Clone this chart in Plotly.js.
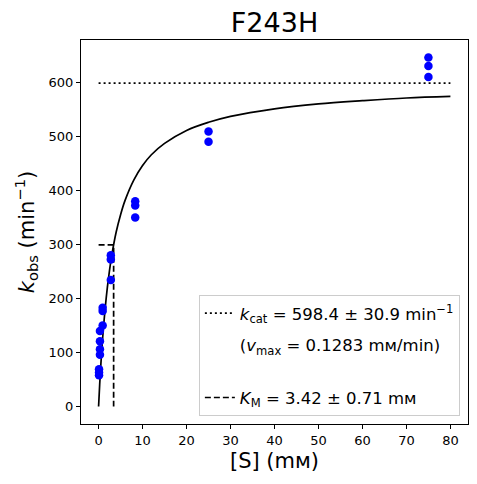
<!DOCTYPE html>
<html>
<head>
<meta charset="utf-8">
<script src="https://cdn.plot.ly/plotly-3.0.1.min.js"></script>
<style>html,body{margin:0;padding:0;background:#fff;}#chart{width:477px;height:484px;}</style>
</head>
<body>
<div id="chart"></div>
<script>
// Measured substrate concentrations (mM) and observed rates (min^-1)
const substrate = [0.103, 0.103, 0.103,
                   0.309, 0.309, 0.309, 0.309,
                   0.926, 0.926, 0.926,
                   2.78, 2.78, 2.78,
                   8.33, 8.33, 8.33,
                   25, 25,
                   75, 75, 75];
const kobs = [58, 63, 69,
              96, 106, 121, 140,
              150, 177, 183,
              234, 272, 280,
              350, 372, 380,
              490, 509,
              610, 630, 646];

// Fitted curve
const fitS = [0, 0.25, 0.5, 0.75, 1, 1.5, 2, 2.5, 3, 4, 5, 6, 8, 10, 12, 15, 20, 25, 30, 40, 50, 60, 70, 80];
const fitK = [0, 41, 76, 108, 135, 182, 221, 253, 280, 323, 355, 381, 419, 446, 466, 487, 511, 526, 537, 551, 560, 566, 571, 574];

// Fit parameters
const kcat = 598.4;
const KM = 3.42;
const kcatLineX = [0, 80];
const kcatLineY = [kcat, kcat];
const kmLineX = [0, KM, KM];
const kmLineY = [kcat / 2, kcat / 2, 0];

const legendTexts = [
  "<i>k</i><sub>cat</sub> = 598.4 ± 30.9 min<sup>−1</sup>",
  "(<i>v</i><sub>max</sub> = 0.1283 mм/min)<br> ",
  "<i>K</i><sub>M</sub> = 3.42 ± 0.71 mм"
];

const font = "DejaVu Sans, sans-serif";

const traces = [
  {x: kcatLineX, y: kcatLineY, mode: "lines", name: legendTexts[0], legendgroup: "a",
   line: {color: "black", width: 1.7, dash: "2px,3px"}, hoverinfo: "skip"},
  {x: kcatLineX, y: kcatLineY, mode: "lines", name: legendTexts[1], legendgroup: "b",
   line: {color: "rgba(0,0,0,0)", width: 1}, hoverinfo: "skip"},
  {x: kmLineX, y: kmLineY, mode: "lines", name: legendTexts[2], legendgroup: "c",
   line: {color: "black", width: 1.7, dash: "6px,3px"}, hoverinfo: "skip"},
  {x: fitS, y: fitK, mode: "lines", showlegend: false,
   line: {color: "black", width: 1.7, shape: "spline"}},
  {x: substrate, y: kobs, mode: "markers", showlegend: false,
   marker: {color: "#0000ff", size: 8.5}}
];

const axisCommon = {
  showline: true, mirror: true, linecolor: "black", linewidth: 1,
  ticks: "outside", ticklen: 4, tickwidth: 1, tickcolor: "black",
  showgrid: false, zeroline: false,
  tickfont: {family: font, size: 13, color: "black"}
};

const layout = {
  width: 477, height: 484,
  margin: {l: 81, r: 9, t: 40, b: 60},
  paper_bgcolor: "white", plot_bgcolor: "white",
  font: {family: font, color: "black"},
  title: {text: "F243H", font: {family: font, size: 27, color: "black"},
          x: 0.5, xref: "paper", y: 0.953, yref: "container", yanchor: "middle"},
  xaxis: Object.assign({}, axisCommon, {
    range: [-4, 84], tickmode: "linear", tick0: 0, dtick: 10,
    title: {text: "[S] (mм)", font: {family: font, size: 21, color: "black"}, standoff: 6}
  }),
  yaxis: Object.assign({}, axisCommon, {
    range: [-32.3, 678.3], tickmode: "linear", tick0: 0, dtick: 100,
    title: {text: "<i>k</i><sub>obs</sub> (min<sup>−1</sup>)", font: {family: font, size: 21, color: "black"}, standoff: 8}
  }),
  showlegend: true,
  legend: {
    x: 0.979, y: 0.021, xanchor: "right", yanchor: "bottom",
    bgcolor: "rgba(255,255,255,0.8)", bordercolor: "#cccccc", borderwidth: 1,
    font: {family: font, size: 16.5, color: "black"},
    traceorder: "grouped", tracegroupgap: 7, valign: "top"
  }
};

Plotly.newPlot("chart", traces, layout, {staticPlot: true, displayModeBar: false});
</script>
</body>
</html>
